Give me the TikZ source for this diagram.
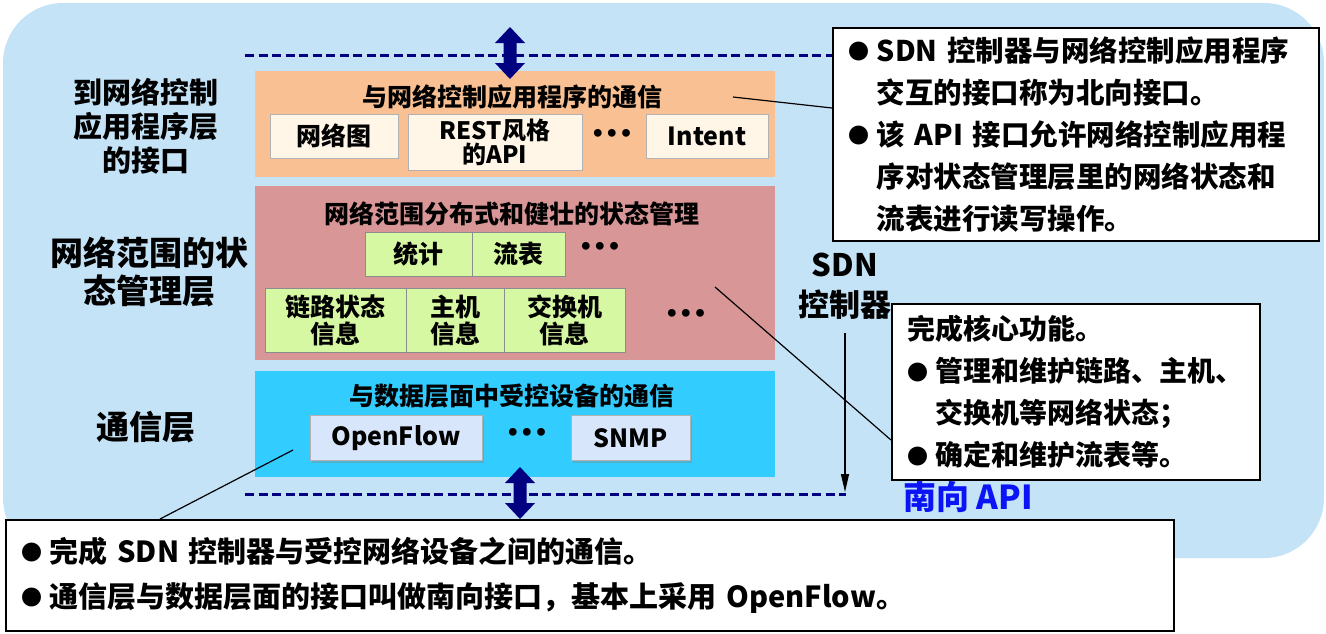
\documentclass[tikz,border=0pt]{standalone}
\usepackage{fontspec}
\setmainfont{Noto Sans CJK SC}
\newfontfamily\dvfont{DejaVu Sans}
\usetikzlibrary{shadows,arrows.meta}
\definecolor{bgblue}{HTML}{C5E3F7}
\definecolor{appor}{HTML}{F9C193}
\definecolor{statepk}{HTML}{D99696}
\definecolor{commcy}{HTML}{33CCFF}
\definecolor{cream}{HTML}{FFF6E8}
\definecolor{lgreen}{HTML}{D7F8A2}
\definecolor{lblue}{HTML}{D8E6FB}
\definecolor{navy}{HTML}{000080}
\definecolor{apiblue}{HTML}{0A14F5}
\newcommand{\bul}{\makebox[28pt][l]{\raisebox{1.5pt}{\fontsize{21}{21}\selectfont ●}}}
\newcommand{\ind}{\hspace*{28pt}}
\begin{document}
\begin{tikzpicture}[x=1pt,y=-1pt,
  layer/.style={anchor=north west, minimum width=520pt, inner sep=0pt},
  title/.style={font=\bfseries\fontsize{25}{25}\selectfont},
  smallbox/.style={draw=gray!60, line width=1pt, inner sep=0pt, minimum height=44pt, align=center,
    font=\bfseries\fontsize{25}{25}\selectfont},
  creambox/.style={smallbox, fill=cream},
  greenbox/.style={smallbox, fill=lgreen, draw=black!45},
  twoline/.style={minimum height=64pt, font=\bfseries\fontsize{25}{27}\selectfont},
  bluebtn/.style={smallbox, fill=lblue, minimum height=45pt, font=\bfseries\fontsize{25}{25}\selectfont,
    drop shadow={shadow xshift=1.5pt, shadow yshift=-2pt, opacity=0.35}},
  dots/.style={font=\dvfont\bfseries\fontsize{22}{22}\selectfont},
  lbl/.style={align=center, font=\bfseries\fontsize{29}{34}\selectfont},
  note/.style={draw=black, line width=1.6pt, fill=white, anchor=north west, inner xsep=16pt, inner ysep=0pt, align=left},
  dashline/.style={navy, line width=3pt, dash pattern=on 9pt off 4.5pt},
  conn/.style={black, line width=1.2pt}
]
\useasboundingbox (0,0) rectangle (1326,633);
\fill[bgblue, rounded corners=60pt] (3,3) rectangle (1324,558);

% dashed interface lines
\coordinate (dtl) at (245,55);
\coordinate (dtr) at (832,55);
\coordinate (dbl) at (245,494);
\coordinate (dbr) at (846,494);
\draw[dashline] (dtl) -- (dtr);
\draw[dashline] (dbl) -- (dbr);

% layers
\node[layer, fill=appor, minimum height=106pt] (app) at (255,71) {};
\node[layer, fill=statepk, minimum height=174pt] (state) at (255,186) {};
\node[layer, fill=commcy, minimum height=106pt] (comm) at (255,371) {};

\node[title] (apptitle) at (512,97) {与网络控制应用程序的通信};
\node[creambox, minimum width=128pt] (netmap) at (334,136) {网络图};
\node[creambox, minimum width=174pt, minimum height=56pt, font=\bfseries\fontsize{24}{21}\selectfont] (rest) at (495,142) {REST风格\\的API};
\node[dots] (dots1) at (612,135) {•••};
\node[creambox, minimum width=122pt] (intent) at (707,136) {Intent};

\node[title] (statetitle) at (512,214) {网络范围分布式和健壮的状态管理};
\node[greenbox, minimum width=107pt] (stat) at (418.5,254) {统计};
\node[greenbox, minimum width=93pt] (flow) at (518.5,254) {流表};
\node[dots] (dots2) at (600,248) {•••};
\node[greenbox, twoline, minimum width=141pt] (link) at (335.5,320) {链路状态\\信息};
\node[greenbox, twoline, minimum width=98pt] (host) at (455,320) {主机\\信息};
\node[greenbox, twoline, minimum width=121pt] (switch) at (564.5,320) {交换机\\信息};
\node[dots] (dots3) at (686,315) {•••};

\node[title] (commtitle) at (512,396) {与数据层面中受控设备的通信};
\node[bluebtn, minimum width=172pt] (of) at (396,438) {OpenFlow};
\node[dots] (dots4) at (527,434) {•••};
\node[bluebtn, minimum width=119pt] (snmp) at (630.5,438) {SNMP};

% double arrows
\fill[navy] (510,27) -- (525,43) -- (516.5,43) -- (516.5,63) -- (525,63) -- (510,79) -- (495,63) -- (503.5,63) -- (503.5,43) -- (495,43) -- cycle;
\fill[navy] (520,467) -- (535,483) -- (526.5,483) -- (526.5,503) -- (535,503) -- (520,519) -- (505,503) -- (513.5,503) -- (513.5,483) -- (505,483) -- cycle;

% left labels
\node[lbl] (l1) at (146,126) {到网络控制\\应用程序层\\的接口};
\node[lbl, font=\bfseries\fontsize{33}{38}\selectfont] (l2) at (149,272) {网络范围的状\\态管理层};
\node[lbl, font=\bfseries\fontsize{33}{38}\selectfont] (l3) at (146,427) {通信层};

% SDN controller label and arrow
\node[lbl, font=\bfseries\fontsize{31}{40}\selectfont] (sdn) at (845,286) {SDN\\控制器};
\coordinate (va) at (845,333);
\coordinate (vb) at (845,492);
\draw[black, line width=1.3pt, -{Triangle[length=18pt,width=8pt]}] (va) -- (vb);
\node[font=\bfseries\fontsize{33}{33}\selectfont, text=apiblue] (south) at (968,497) {南向 API};

% note boxes
\node[note, minimum width=486pt, minimum height=213pt, text width=454pt,
      font=\bfseries\fontsize{28.5}{42}\selectfont] (nbox) at (832,27)
  {\bul SDN 控制器与网络控制应用程序\\
   \ind 交互的接口称为北向接口。\\
   \bul 该 API 接口允许网络控制应用程\\
   \ind 序对状态管理层里的网络状态和\\
   \ind 流表进行读写操作。};
\node[note, minimum width=368pt, minimum height=176pt, text width=336pt,
      font=\bfseries\fontsize{28}{42}\selectfont] (mbox) at (891,303)
  {完成核心功能。\\
   \bul 管理和维护链路、主机、\\
   \ind 交换机等网络状态；\\
   \bul 确定和维护流表等。};
\node[note, minimum width=1168pt, minimum height=111pt, text width=1136pt,
      font=\bfseries\fontsize{29}{45}\selectfont] (bbox) at (5,519)
  {\bul 完成 SDN 控制器与受控网络设备之间的通信。\\
   \bul 通信层与数据层面的接口叫做南向接口，基本上采用 OpenFlow。};

% callout connectors
\coordinate (c1a) at (733,97);
\coordinate (c1b) at (832,108);
\draw[conn] (c1a) -- (c1b);
\coordinate (c2a) at (715,287);
\coordinate (c2b) at (891,440);
\draw[conn] (c2a) -- (c2b);
\coordinate (c3a) at (293,450);
\coordinate (c3b) at (160,519);
\draw[conn] (c3a) -- (c3b);
\end{tikzpicture}
\end{document}
